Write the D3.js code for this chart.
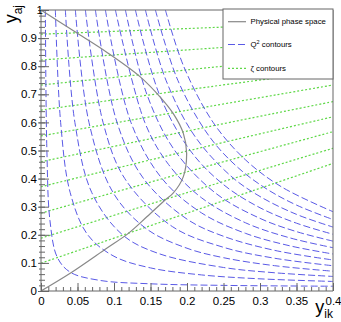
<!DOCTYPE html>
<html lang="en">
<head>
<meta charset="UTF-8">
<title>Phase space contours</title>
<script src="https://d3js.org/d3.v7.min.js"></script>
<style>
  body { margin: 0; background: #fff; }
  text { font-family: "Liberation Sans", Arial, sans-serif; fill: #000; }
  .axis path, .axis line { stroke: #666; }
  .axis text { font-size: 11.5px; }
</style>
</head>
<body>
<div id="chart"></div>
<script>
// ---- data ----
const xMajor = [0, 0.05, 0.1, 0.15, 0.2, 0.25, 0.3, 0.35, 0.4];
const yMajor = [0, 0.1, 0.2, 0.3, 0.4, 0.5, 0.6, 0.7, 0.8, 0.9, 1];

// physical phase space boundary [y_ik, y_aj]
const physical = [
  [0, 1], [0.045, 0.925], [0.09, 0.85], [0.1356, 0.763], [0.163, 0.691],
  [0.181, 0.632], [0.195, 0.561], [0.1995, 0.49], [0.195, 0.407],
  [0.181, 0.348], [0.17, 0.324], [0.145, 0.264], [0.1196, 0.205],
  [0.09, 0.152], [0.04, 0.063], [0, 0]
];

// Q^2 contours
const q2Contours = [
  [[0.006, 1], [0.00806, 0.5], [0.0123, 0.25], [0.0223, 0.12], [0.04, 0.067], [0.08, 0.038], [0.15, 0.0256], [0.25, 0.02], [0.4, 0.017]],
  [[0.0197, 1], [0.0269, 0.6], [0.04, 0.35], [0.064, 0.2], [0.1, 0.1236], [0.15, 0.0822], [0.22, 0.0572], [0.3, 0.0433], [0.4, 0.034]],
  [[0.0334, 1], [0.0464, 0.6], [0.0696, 0.35], [0.1116, 0.2], [0.16, 0.1343], [0.25, 0.0837], [0.32, 0.0649], [0.4, 0.0518]],
  [[0.0471, 1], [0.0657, 0.6], [0.0988, 0.35], [0.1451, 0.22], [0.2, 0.1522], [0.25, 0.1185], [0.32, 0.0901], [0.4, 0.0704]],
  [[0.0608, 1], [0.085, 0.6], [0.1148, 0.4], [0.18, 0.2292], [0.25, 0.1555], [0.32, 0.1166], [0.4, 0.0899]],
  [[0.0745, 1], [0.1041, 0.6], [0.1405, 0.4], [0.2, 0.2558], [0.25, 0.1948], [0.32, 0.1446], [0.4, 0.1104]],
  [[0.0882, 1], [0.1232, 0.6], [0.1658, 0.4], [0.22, 0.2778], [0.28, 0.2053], [0.34, 0.1613], [0.4, 0.1317]],
  [[0.1019, 1], [0.1422, 0.6], [0.1748, 0.45], [0.22, 0.3316], [0.28, 0.2429], [0.34, 0.1897], [0.4, 0.1541]],
  [[0.1156, 1], [0.145, 0.7], [0.1832, 0.5], [0.24, 0.3465], [0.3, 0.2584], [0.35, 0.2113], [0.4, 0.1775]],
  [[0.1293, 1], [0.1621, 0.7], [0.2044, 0.5], [0.25, 0.3786], [0.3, 0.2963], [0.35, 0.2413], [0.4, 0.2019]],
  [[0.143, 1], [0.1712, 0.75], [0.2109, 0.55], [0.26, 0.4093], [0.3, 0.3363], [0.35, 0.2727], [0.4, 0.2275]],
  [[0.1567, 1], [0.1874, 0.75], [0.2306, 0.55], [0.27, 0.4388], [0.31, 0.3617], [0.35, 0.3057], [0.4, 0.2543]],
  [[0.1704, 1], [0.1954, 0.8], [0.2358, 0.6], [0.28, 0.467], [0.33, 0.3698], [0.4, 0.2822]]
];

// zeta contours: y_aj at y_ik = 0, 0.2, 0.4
const zetaX = [0, 0.2, 0.4];
const zetaContours = [
  [0.099, 0.277, 0.454],
  [0.188, 0.350, 0.508],
  [0.277, 0.424, 0.567],
  [0.371, 0.498, 0.620],
  [0.460, 0.569, 0.674],
  [0.552, 0.643, 0.733],
  [0.644, 0.716, 0.785],
  [0.733, 0.787, 0.839],
  [0.822, 0.858, 0.893],
  [0.914, 0.934, 0.955]
];

const legendItems = ["Physical phase space", "Q2", "ζ contours"];

// ---- layout ----
const W = 341, H = 322;
const plot = { left: 41, right: 333, top: 10, bottom: 291 };

const svg = d3.select("#chart").append("svg")
  .attr("width", W).attr("height", H);

const x = d3.scaleLinear().domain([0, 0.4]).range([plot.left, plot.right]);
const y = d3.scaleLinear().domain([0, 1]).range([plot.bottom, plot.top]);

svg.append("defs").append("clipPath").attr("id", "clip")
  .append("rect")
  .attr("x", plot.left).attr("y", plot.top)
  .attr("width", plot.right - plot.left).attr("height", plot.bottom - plot.top);

const line = d3.line()
  .x(d => x(d[0])).y(d => y(d[1]))
  .curve(d3.curveCatmullRom.alpha(0.5));

const g = svg.append("g").attr("clip-path", "url(#clip)");

// zeta contours (green dotted)
g.selectAll("path.zeta")
  .data(zetaContours)
  .join("path")
  .attr("class", "zeta")
  .attr("d", d => line(d.map((v, i) => [zetaX[i], v])))
  .attr("fill", "none")
  .attr("stroke", "#5fd848")
  .attr("stroke-width", 1.2)
  .attr("stroke-dasharray", "2,2");

// Q2 contours (blue dashed)
g.selectAll("path.q2")
  .data(q2Contours)
  .join("path")
  .attr("class", "q2")
  .attr("d", line)
  .attr("fill", "none")
  .attr("stroke", "#5a5ae6")
  .attr("stroke-width", 1)
  .attr("stroke-dasharray", "7,3");

// physical phase space
g.append("path")
  .attr("d", line(physical))
  .attr("fill", "none")
  .attr("stroke", "#888")
  .attr("stroke-width", 1.2);

// ---- axes ----
const xMinor = d3.range(0, 41).map(i => i / 100);
const yMinor = d3.range(0, 51).map(i => i / 50);

svg.append("g").attr("class", "axis")
  .attr("transform", `translate(0,${plot.bottom})`)
  .call(d3.axisBottom(x).tickValues(xMinor).tickSize(-4).tickFormat(""))
  .call(a => a.select(".domain").remove());
svg.append("g").attr("class", "axis")
  .attr("transform", `translate(0,${plot.bottom})`)
  .call(d3.axisBottom(x).tickValues(xMajor).tickSize(-8).tickPadding(6)
    .tickFormat(d => d3.format("~g")(d)))
  .call(a => a.select(".domain").attr("d", `M${plot.left},0H${plot.right}`));

// y ticks cross the axis a little, as in the original
svg.append("g").attr("class", "axis")
  .attr("transform", `translate(${plot.left},0)`)
  .call(d3.axisLeft(y).tickValues(yMinor).tickSize(-4).tickFormat(""))
  .call(a => a.select(".domain").remove())
  .call(a => a.selectAll("line").attr("x1", -2));
svg.append("g").attr("class", "axis")
  .attr("transform", `translate(${plot.left},0)`)
  .call(d3.axisLeft(y).tickValues(yMajor).tickSize(-8).tickPadding(4)
    .tickFormat(d => d3.format("~g")(d)))
  .call(a => a.select(".domain").attr("d", `M0,${plot.bottom}V${plot.top}`))
  .call(a => a.selectAll("line").attr("x1", -3))
  .call(a => a.selectAll("text").filter(d => d === 1).attr("x", 2).attr("y", 0));

// frame top / right
svg.append("path")
  .attr("d", `M${plot.left},${plot.top}H${plot.right}V${plot.bottom}`)
  .attr("fill", "none").attr("stroke", "#666");

// axis titles
const yt = svg.append("text")
  .attr("transform", "translate(17,5) rotate(-90)")
  .attr("text-anchor", "end")
  .style("font-size", "18px");
yt.append("tspan").text("y");
yt.append("tspan").attr("dy", 5).style("font-size", "12px").text("aj");

const xt = svg.append("text")
  .attr("x", plot.right).attr("y", 313)
  .attr("text-anchor", "end")
  .style("font-size", "18px");
xt.append("tspan").text("y");
xt.append("tspan").attr("dy", 5).style("font-size", "12px").text("ik");

// ---- legend ----
const lg = svg.append("g");
lg.append("rect")
  .attr("x", 223).attr("y", 9).attr("width", 110).attr("height", 70)
  .attr("fill", "#fff").attr("stroke", "#666");

const rows = [21.7, 44.5, 68.3];
const styles = [
  { stroke: "#888", dash: null, w: 1.2 },
  { stroke: "#5a5ae6", dash: "7,3", w: 1 },
  { stroke: "#5fd848", dash: "2,2", w: 1.2 }
];
legendItems.forEach((name, i) => {
  lg.append("line")
    .attr("x1", 228).attr("x2", 246)
    .attr("y1", rows[i]).attr("y2", rows[i])
    .attr("stroke", styles[i].stroke)
    .attr("stroke-width", styles[i].w)
    .attr("stroke-dasharray", styles[i].dash);
  const t = lg.append("text")
    .attr("x", 250.5).attr("y", rows[i]).attr("dy", "0.35em")
    .style("font-size", "7.8px");
  if (name === "Q2") {
    t.append("tspan").text("Q");
    t.append("tspan").attr("dy", -3).style("font-size", "5.5px").text("2");
    t.append("tspan").attr("dy", 3).text(" contours");
  } else {
    t.text(name);
  }
});
</script>
</body>
</html>
